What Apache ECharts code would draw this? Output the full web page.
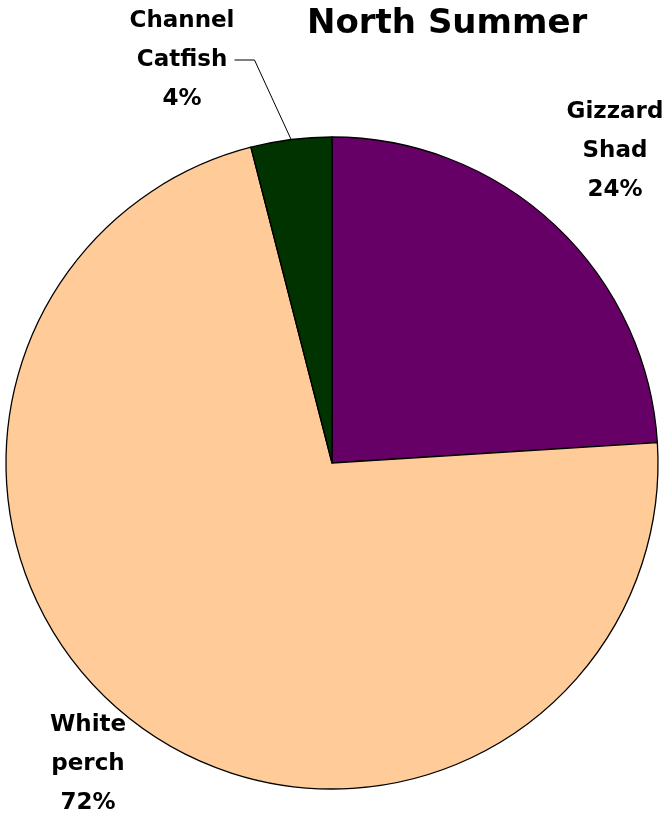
<!DOCTYPE html>
<html>
<head>
<meta charset="utf-8">
<script src="https://cdn.jsdelivr.net/npm/echarts@6/dist/echarts.min.js"></script>
<style>
  html, body { margin: 0; padding: 0; background: #fff; }
  #main { width: 671px; height: 816px; }
</style>
</head>
<body>
<div id="main"></div>
<script>
var myChart = echarts.init(document.getElementById('main'));

// species in clockwise order starting at 12 o'clock
var species = ['Gizzard Shad', 'White perch', 'Channel Catfish'];
var percents = [24, 72, 4];
var colors = ['#660066', '#FFCC99', '#003300'];

// label centres, same order as species
var labelPos = [[615, 151], [88, 764], [182, 60]];

var option = {
    backgroundColor: '#ffffff',
    title: {
        text: 'North Summer',
        left: 302,
        top: 2,
        textStyle: {
            fontFamily: 'DejaVu Sans, sans-serif',
            fontWeight: 'bold',
            fontSize: 34,
            color: '#000'
        }
    },
    series: [
        {
            type: 'pie',
            center: [332, 463],
            radius: 326,
            startAngle: 90,
            clockwise: true,
            animation: false,
            avoidLabelOverlap: false,
            itemStyle: {
                borderColor: '#000',
                borderWidth: 1.3
            },
            label: {
                show: true,
                position: 'outside',
                formatter: function (p) {
                    return p.name.replace(' ', '\n') + '\n' + p.value + '%';
                },
                fontFamily: 'DejaVu Sans, sans-serif',
                fontWeight: 'bold',
                fontSize: 23,
                lineHeight: 39,
                color: '#000',
                align: 'center'
            },
            labelLine: {
                show: false
            },
            labelLayout: function (params) {
                var pos = labelPos[params.dataIndex];
                return {
                    x: pos[0],
                    y: pos[1],
                    align: 'center',
                    verticalAlign: 'middle'
                };
            },
            data: species.map(function (name, i) {
                var item = {
                    name: name,
                    value: percents[i],
                    itemStyle: { color: colors[i] }
                };
                if (name === 'Channel Catfish') {
                    item.labelLine = {
                        show: true,
                        length: 70,
                        length2: 20,
                        lineStyle: { color: '#000', width: 1 }
                    };
                }
                return item;
            })
        }
    ]
};

option && myChart.setOption(option);
</script>
</body>
</html>
